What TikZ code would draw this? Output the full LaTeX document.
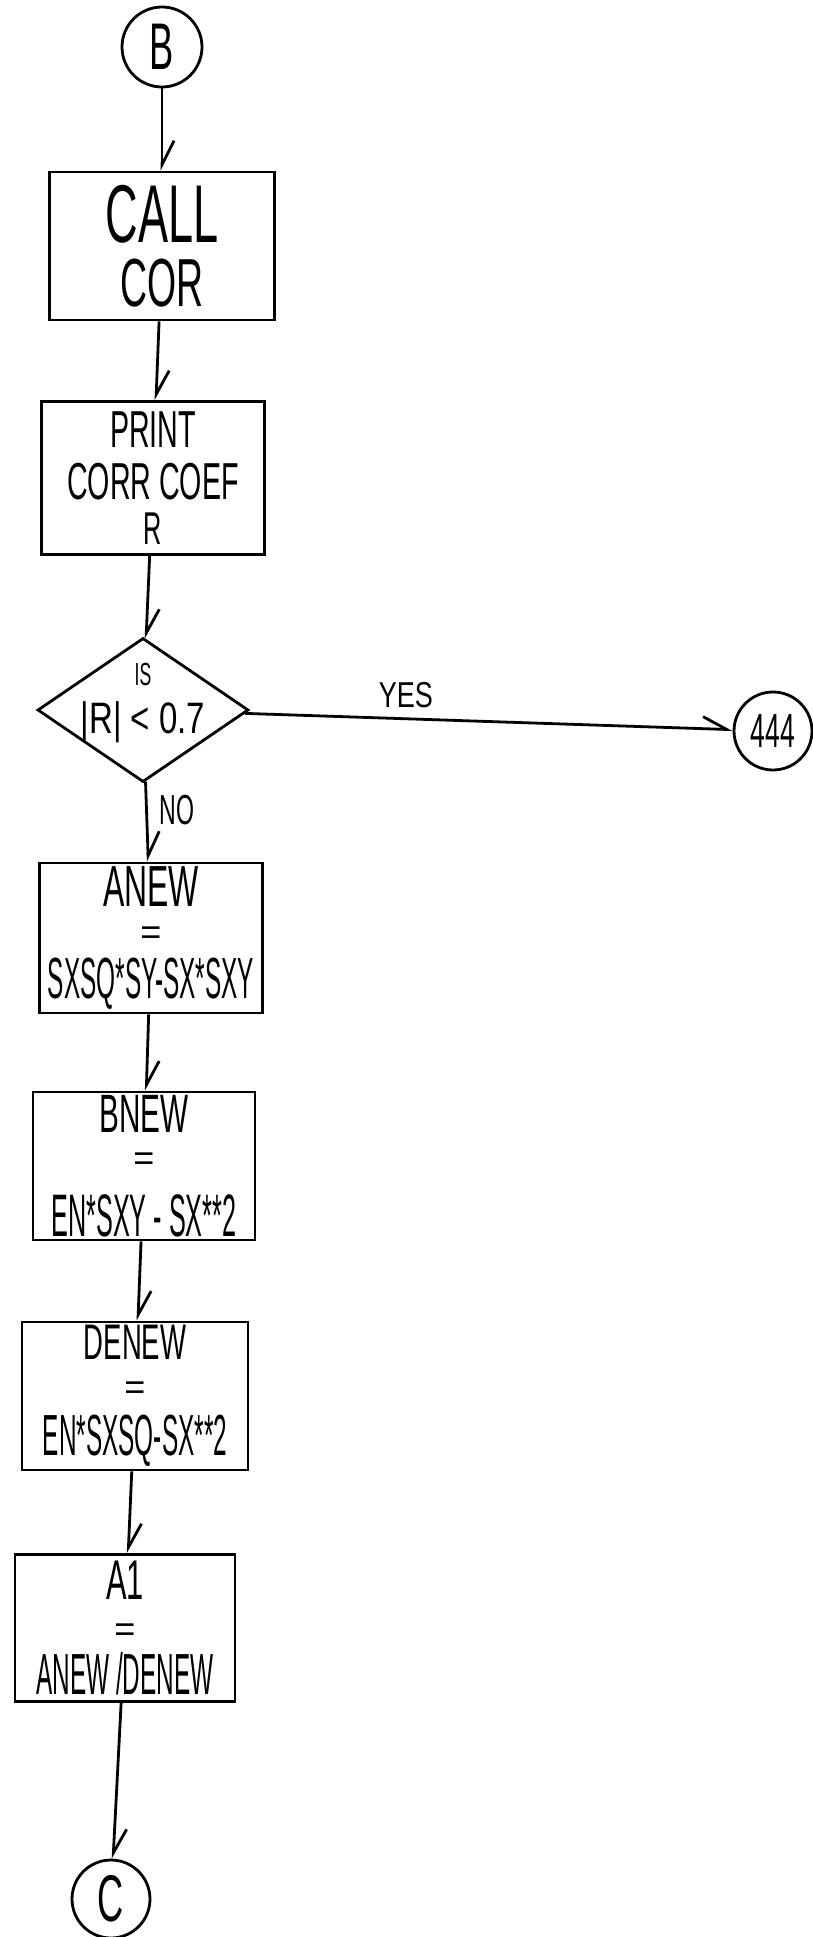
\documentclass[tikz,border=0pt]{standalone}
\usepackage{fontspec}
\setmainfont{Liberation Sans}
\newfontfamily\handfont{Liberation Sans}[FakeStretch=0.55]
\newfontfamily\slimfont{Liberation Sans}[FakeStretch=0.42]
\newfontfamily\midfont{Liberation Sans}[FakeStretch=0.75]
\newcommand\fsz[1]{\fontsize{#1}{#1}\selectfont}
\usetikzlibrary{arrows.meta,shapes.geometric}

\begin{document}
\begin{tikzpicture}[x=0.5pt, y=-0.5pt,
  stepbox/.style={rectangle, draw, line width=1.4pt, inner sep=0pt, align=center,
    font=\handfont\fsz{10}},
  decision/.style={diamond, draw, line width=1.4pt, inner xsep=-16pt, inner ysep=-14pt,
    aspect=1.46, align=center, font=\handfont\fsz{10}},
  connector/.style={circle, draw, line width=1.4pt, minimum size=39pt, inner sep=0pt,
    font=\handfont\fsz{10}},
  arr/.style={-{Straight Barb[left, length=12pt, width=12pt]}, line width=1.4pt},
  lbl/.style={font=\handfont, inner sep=1pt},
]
\useasboundingbox (0,0) rectangle (813,1937);
\node[connector, minimum size=40pt] (b) at (162,47) {\fsz{33}B};
\node[stepbox, minimum width=112.5pt, minimum height=74pt] (callcor) at (162,246)
  {\fsz{41}CALL\\[7pt]\fsz{34}COR};
\node[stepbox, minimum width=111.5pt, minimum height=76.5pt] (printr) at (153,478)
  {\fsz{26}PRINT\\[7pt]\fsz{26}CORR COEF\\[5pt]\fsz{23}R};
\node[decision, minimum width=105.5pt, minimum height=72pt] (test) at (143,710)
  {\fsz{16}IS\\[7pt]\midfont\fsz{22}|R| < 0.7\\[2pt]};
\node[connector] (c444) at (773,731) {\fsz{24}444};
\node[stepbox, minimum width=111.5pt, minimum height=75pt] (anew) at (151,938)
  {\fsz{29}ANEW\\[9pt]{\normalfont\fsz{18}=}\\[6pt]\slimfont\fsz{29}SXSQ*SY-SX*SXY};
\node[stepbox, minimum width=111pt, minimum height=74pt] (bnew) at (144,1166)
  {\fsz{27}BNEW\\[9pt]{\normalfont\fsz{18}=}\\[11pt]\slimfont\fsz{30}EN*SXY - SX**2};
\node[stepbox, minimum width=113pt, minimum height=74pt] (denew) at (135,1396)
  {\fsz{25}DENEW\\[10pt]{\normalfont\fsz{18}=}\\[7pt]\slimfont\fsz{29}EN*SXSQ-SX**2};
\node[stepbox, minimum width=110pt, minimum height=73.5pt] (aone) at (125,1628)
  {\fsz{28}A1\\[11pt]{\normalfont\fsz{18}=}\\[4pt]\slimfont\fsz{29}ANEW /DENEW};
\node[connector] (c) at (111,1899) {\fsz{33}C};
\draw[arr] (b) -- (callcor);
\draw[arr] (callcor) -- (printr);
\draw[arr] (printr) -- (test);
\draw[arr] (test) -- node[lbl, above=4pt, pos=0.33] {\midfont\fsz{18}YES} (c444);
\draw[arr] (test) -- node[lbl, right=5pt, pos=0.35] {\fsz{21}NO} (anew);
\draw[arr] (anew) -- (bnew);
\draw[arr] (bnew) -- (denew);
\draw[arr] (denew) -- (aone);
\draw[arr] (aone) -- (c);
\end{tikzpicture}
\end{document}
